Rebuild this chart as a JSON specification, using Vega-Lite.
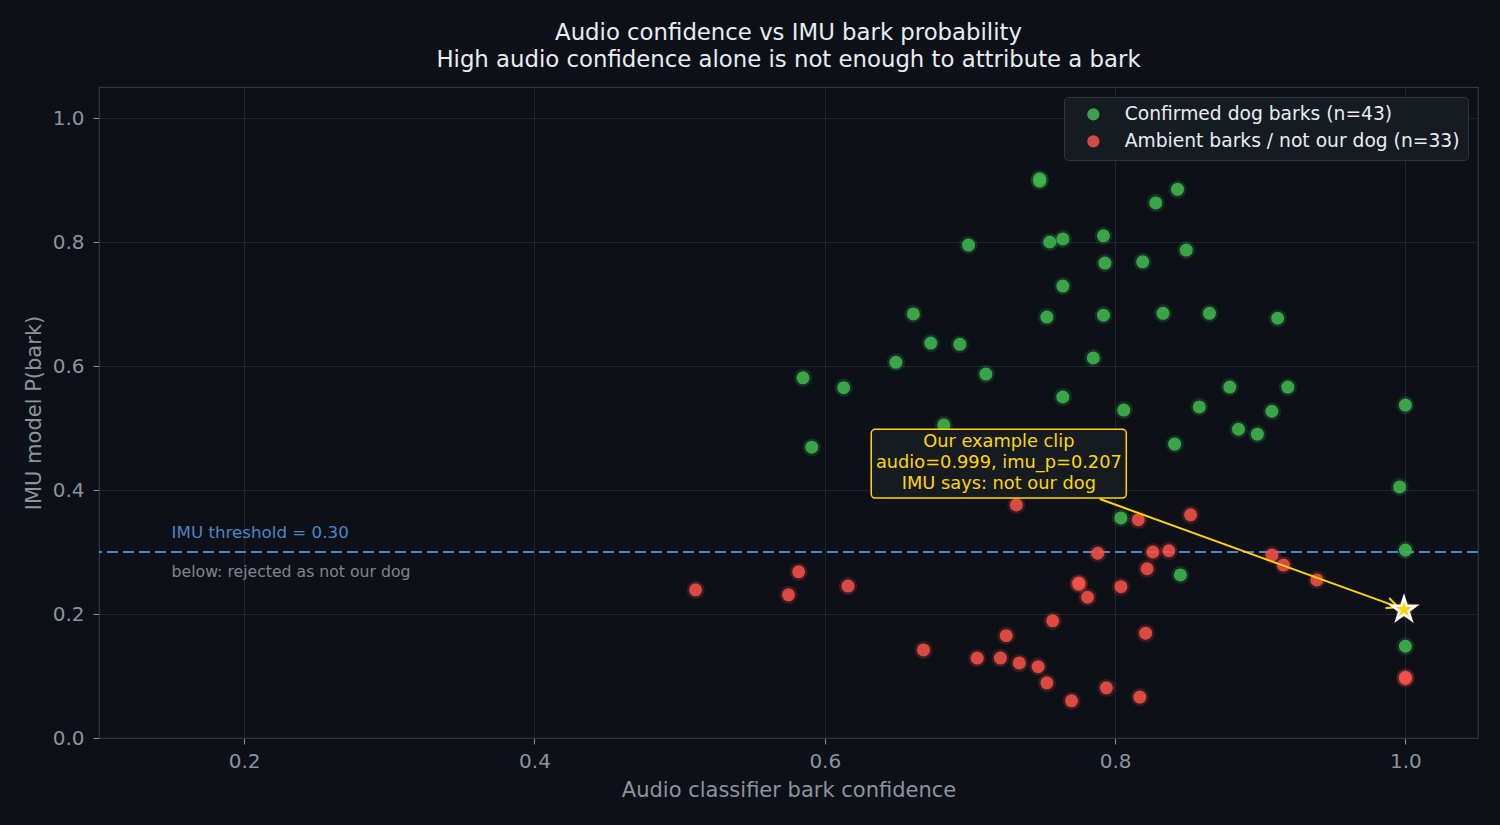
{
  "$schema": "https://vega.github.io/schema/vega-lite/v6.json",
  "width": 1379,
  "height": 651,
  "autosize": {"type": "none"},
  "padding": {"left": 99, "top": 87, "right": 22, "bottom": 87},
  "background": "#0d1117",
  "title": {
    "text": ["Audio confidence vs IMU bark probability", "High audio confidence alone is not enough to attribute a bark"],
    "color": "#e6edf3",
    "fontSize": 22.8,
    "fontWeight": "normal",
    "font": "DejaVu Sans",
    "lineHeight": 27,
    "anchor": "middle",
    "offset": 15
  },
  "config": {
    "font": "DejaVu Sans",
    "view": {"stroke": "#30363d", "strokeWidth": 1.2, "fill": "#0d1117"},
    "axis": {
      "gridColor": "#21262d",
      "gridWidth": 1,
      "domainColor": "#30363d",
      "tickColor": "#8b949e",
      "tickSize": 6,
      "labelColor": "#8b949e",
      "labelFontSize": 20,
      "labelPadding": 9,
      "titleColor": "#8b949e",
      "titleFontSize": 21,
      "titleFontWeight": "normal",
      "titlePadding": 8
    },
    "axisX": {"labelPadding": 7},
    "legend": {
      "orient": "top-right",
      "offset": 10,
      "padding": 8,
      "fillColor": "#161b22",
      "strokeColor": "#30363d",
      "cornerRadius": 4,
      "labelColor": "#e6edf3",
      "labelFontSize": 18.7,
      "labelLimit": 500,
      "labelOffset": 22,
      "symbolOffset": 12,
      "symbolSize": 150,
      "symbolType": "circle",
      "symbolStrokeWidth": 0,
      "symbolOpacity": 0.85,
      "rowPadding": 7
    }
  },
  "datasets": {
    "clips": [
      {"group": "Confirmed dog barks (n=43)", "audio": 0.699, "imu": 0.795},
      {"group": "Confirmed dog barks (n=43)", "audio": 0.661, "imu": 0.684},
      {"group": "Confirmed dog barks (n=43)", "audio": 0.673, "imu": 0.637},
      {"group": "Confirmed dog barks (n=43)", "audio": 0.693, "imu": 0.635},
      {"group": "Confirmed dog barks (n=43)", "audio": 0.649, "imu": 0.606},
      {"group": "Confirmed dog barks (n=43)", "audio": 0.585, "imu": 0.581},
      {"group": "Confirmed dog barks (n=43)", "audio": 0.613, "imu": 0.565},
      {"group": "Confirmed dog barks (n=43)", "audio": 0.682, "imu": 0.505},
      {"group": "Confirmed dog barks (n=43)", "audio": 0.591, "imu": 0.469},
      {"group": "Confirmed dog barks (n=43)", "audio": 0.711, "imu": 0.587},
      {"group": "Confirmed dog barks (n=43)", "audio": 0.748, "imu": 0.898},
      {"group": "Confirmed dog barks (n=43)", "audio": 0.748, "imu": 0.902},
      {"group": "Confirmed dog barks (n=43)", "audio": 0.843, "imu": 0.885},
      {"group": "Confirmed dog barks (n=43)", "audio": 0.828, "imu": 0.863},
      {"group": "Confirmed dog barks (n=43)", "audio": 0.755, "imu": 0.8},
      {"group": "Confirmed dog barks (n=43)", "audio": 0.764, "imu": 0.805},
      {"group": "Confirmed dog barks (n=43)", "audio": 0.792, "imu": 0.81},
      {"group": "Confirmed dog barks (n=43)", "audio": 0.849, "imu": 0.787},
      {"group": "Confirmed dog barks (n=43)", "audio": 0.793, "imu": 0.766},
      {"group": "Confirmed dog barks (n=43)", "audio": 0.819, "imu": 0.768},
      {"group": "Confirmed dog barks (n=43)", "audio": 0.764, "imu": 0.729},
      {"group": "Confirmed dog barks (n=43)", "audio": 0.753, "imu": 0.679},
      {"group": "Confirmed dog barks (n=43)", "audio": 0.792, "imu": 0.682},
      {"group": "Confirmed dog barks (n=43)", "audio": 0.833, "imu": 0.685},
      {"group": "Confirmed dog barks (n=43)", "audio": 0.865, "imu": 0.685},
      {"group": "Confirmed dog barks (n=43)", "audio": 0.912, "imu": 0.677},
      {"group": "Confirmed dog barks (n=43)", "audio": 0.785, "imu": 0.613},
      {"group": "Confirmed dog barks (n=43)", "audio": 0.764, "imu": 0.55},
      {"group": "Confirmed dog barks (n=43)", "audio": 0.879, "imu": 0.566},
      {"group": "Confirmed dog barks (n=43)", "audio": 0.919, "imu": 0.566},
      {"group": "Confirmed dog barks (n=43)", "audio": 0.806, "imu": 0.529},
      {"group": "Confirmed dog barks (n=43)", "audio": 0.858, "imu": 0.534},
      {"group": "Confirmed dog barks (n=43)", "audio": 0.908, "imu": 0.527},
      {"group": "Confirmed dog barks (n=43)", "audio": 0.885, "imu": 0.498},
      {"group": "Confirmed dog barks (n=43)", "audio": 0.898, "imu": 0.49},
      {"group": "Confirmed dog barks (n=43)", "audio": 0.841, "imu": 0.474},
      {"group": "Confirmed dog barks (n=43)", "audio": 1.0, "imu": 0.537},
      {"group": "Confirmed dog barks (n=43)", "audio": 0.996, "imu": 0.405},
      {"group": "Confirmed dog barks (n=43)", "audio": 1.0, "imu": 0.303},
      {"group": "Confirmed dog barks (n=43)", "audio": 1.0, "imu": 0.148},
      {"group": "Confirmed dog barks (n=43)", "audio": 0.804, "imu": 0.355},
      {"group": "Confirmed dog barks (n=43)", "audio": 0.845, "imu": 0.263},
      {"group": "Ambient barks / not our dog (n=33)", "audio": 0.511, "imu": 0.239},
      {"group": "Ambient barks / not our dog (n=33)", "audio": 0.582, "imu": 0.268},
      {"group": "Ambient barks / not our dog (n=33)", "audio": 0.575, "imu": 0.231},
      {"group": "Ambient barks / not our dog (n=33)", "audio": 0.616, "imu": 0.245},
      {"group": "Ambient barks / not our dog (n=33)", "audio": 0.668, "imu": 0.142},
      {"group": "Ambient barks / not our dog (n=33)", "audio": 0.705, "imu": 0.129},
      {"group": "Ambient barks / not our dog (n=33)", "audio": 0.721, "imu": 0.129},
      {"group": "Ambient barks / not our dog (n=33)", "audio": 0.734, "imu": 0.121},
      {"group": "Ambient barks / not our dog (n=33)", "audio": 0.747, "imu": 0.115},
      {"group": "Ambient barks / not our dog (n=33)", "audio": 0.753, "imu": 0.089},
      {"group": "Ambient barks / not our dog (n=33)", "audio": 0.77, "imu": 0.06},
      {"group": "Ambient barks / not our dog (n=33)", "audio": 0.794, "imu": 0.081},
      {"group": "Ambient barks / not our dog (n=33)", "audio": 0.817, "imu": 0.066},
      {"group": "Ambient barks / not our dog (n=33)", "audio": 0.757, "imu": 0.189},
      {"group": "Ambient barks / not our dog (n=33)", "audio": 0.725, "imu": 0.165},
      {"group": "Ambient barks / not our dog (n=33)", "audio": 0.821, "imu": 0.169},
      {"group": "Ambient barks / not our dog (n=33)", "audio": 0.775, "imu": 0.248},
      {"group": "Ambient barks / not our dog (n=33)", "audio": 0.775, "imu": 0.25},
      {"group": "Ambient barks / not our dog (n=33)", "audio": 0.781, "imu": 0.227},
      {"group": "Ambient barks / not our dog (n=33)", "audio": 0.804, "imu": 0.244},
      {"group": "Ambient barks / not our dog (n=33)", "audio": 0.822, "imu": 0.273},
      {"group": "Ambient barks / not our dog (n=33)", "audio": 0.788, "imu": 0.298},
      {"group": "Ambient barks / not our dog (n=33)", "audio": 0.826, "imu": 0.3},
      {"group": "Ambient barks / not our dog (n=33)", "audio": 0.837, "imu": 0.302},
      {"group": "Ambient barks / not our dog (n=33)", "audio": 0.732, "imu": 0.376},
      {"group": "Ambient barks / not our dog (n=33)", "audio": 0.816, "imu": 0.352},
      {"group": "Ambient barks / not our dog (n=33)", "audio": 0.852, "imu": 0.36},
      {"group": "Ambient barks / not our dog (n=33)", "audio": 0.908, "imu": 0.295},
      {"group": "Ambient barks / not our dog (n=33)", "audio": 0.916, "imu": 0.279},
      {"group": "Ambient barks / not our dog (n=33)", "audio": 0.939, "imu": 0.255},
      {"group": "Ambient barks / not our dog (n=33)", "audio": 1.0, "imu": 0.096},
      {"group": "Ambient barks / not our dog (n=33)", "audio": 1.0, "imu": 0.098},
      {"group": "Ambient barks / not our dog (n=33)", "audio": 0.999, "imu": 0.207}
    ],
    "example": [{"audio": 0.999, "imu": 0.207}],
    "arrow": [
      {"x0": 0.79, "y0": 0.385, "x1": 0.995, "y1": 0.211},
      {"x0": 0.9892, "y0": 0.225, "x1": 0.995, "y1": 0.211},
      {"x0": 0.9868, "y0": 0.2097, "x1": 0.995, "y1": 0.211}
    ],
    "box": [{"x0": 0.632, "x1": 0.8077, "y0": 0.387, "y1": 0.498}],
    "boxtext": [
      {"cx": 0.7199, "cy": 0.477, "label": "Our example clip"},
      {"cx": 0.7199, "cy": 0.443, "label": "audio=0.999, imu_p=0.207"},
      {"cx": 0.7199, "cy": 0.409, "label": "IMU says: not our dog"}
    ],
    "threshold": [{"t": 0.3, "lx": 0.15, "ly": 0.331, "sy": 0.268,
      "label": "IMU threshold = 0.30", "sub": "below: rejected as not our dog"}]
  },
  "layer": [
    {
      "data": {"name": "threshold"},
      "mark": {"type": "rule", "color": "#4a86c8", "strokeWidth": 2, "strokeDash": [11, 5]},
      "encoding": {
        "y": {
          "field": "t", "type": "quantitative",
          "scale": {"domain": [0, 1.05], "nice": false, "zero": false},
          "axis": {"values": [0, 0.2, 0.4, 0.6, 0.8, 1.0], "format": ".1f", "title": "IMU model P(bark)"}
        }
      }
    },
    {
      "data": {"name": "threshold"},
      "mark": {"type": "text", "align": "left", "baseline": "middle", "color": "#4a86c8", "fontSize": 16.7},
      "encoding": {
        "x": {
          "field": "lx", "type": "quantitative",
          "scale": {"domain": [0.1, 1.05], "nice": false, "zero": false},
          "axis": {"values": [0.2, 0.4, 0.6, 0.8, 1.0], "format": ".1f", "title": "Audio classifier bark confidence"}
        },
        "y": {"field": "ly", "type": "quantitative"},
        "text": {"field": "label"}
      }
    },
    {
      "data": {"name": "threshold"},
      "mark": {"type": "text", "align": "left", "baseline": "middle", "color": "#7d8590", "fontSize": 15.7},
      "encoding": {
        "x": {"field": "lx", "type": "quantitative"},
        "y": {"field": "sy", "type": "quantitative"},
        "text": {"field": "sub"}
      }
    },
    {
      "data": {"name": "clips"},
      "mark": {"type": "point", "shape": "circle", "filled": true, "size": 330, "opacity": 0.18},
      "encoding": {
        "x": {"field": "audio", "type": "quantitative"},
        "y": {"field": "imu", "type": "quantitative"},
        "color": {
          "field": "group", "type": "nominal",
          "scale": {"domain": ["Confirmed dog barks (n=43)", "Ambient barks / not our dog (n=33)"], "range": ["#3fb950", "#f85149"]},
          "legend": {"title": null}
        }
      }
    },
    {
      "data": {"name": "clips"},
      "mark": {"type": "point", "shape": "circle", "filled": true, "size": 170, "opacity": 0.85},
      "encoding": {
        "x": {"field": "audio", "type": "quantitative"},
        "y": {"field": "imu", "type": "quantitative"},
        "color": {"field": "group", "type": "nominal"}
      }
    },
    {
      "data": {"name": "arrow"},
      "mark": {"type": "rule", "color": "#ffd700", "strokeWidth": 2, "strokeCap": "round"},
      "encoding": {
        "x": {"field": "x0", "type": "quantitative"},
        "y": {"field": "y0", "type": "quantitative"},
        "x2": {"field": "x1"},
        "y2": {"field": "y1"}
      }
    },
    {
      "data": {"name": "example"},
      "mark": {
        "type": "point",
        "shape": "M0,-1L0.2245,-0.309L0.9511,-0.309L0.3633,0.118L0.5878,0.809L0,0.382L-0.5878,0.809L-0.3633,0.118L-0.9511,-0.309L-0.2245,-0.309Z",
        "filled": true, "color": "#ffd700", "stroke": "#ffffff", "strokeWidth": 2.5, "strokeJoin": "miter", "size": 620, "opacity": 1
      },
      "encoding": {
        "x": {"field": "audio", "type": "quantitative"},
        "y": {"field": "imu", "type": "quantitative"}
      }
    },
    {
      "data": {"name": "box"},
      "mark": {"type": "rect", "fill": "#161b22", "stroke": "#ffd700", "strokeWidth": 1.5, "cornerRadius": 4},
      "encoding": {
        "x": {"field": "x0", "type": "quantitative"},
        "x2": {"field": "x1"},
        "y": {"field": "y0", "type": "quantitative"},
        "y2": {"field": "y1"}
      }
    },
    {
      "data": {"name": "boxtext"},
      "mark": {"type": "text", "align": "center", "baseline": "middle", "color": "#ffd700", "fontSize": 17.8},
      "encoding": {
        "x": {"field": "cx", "type": "quantitative"},
        "y": {"field": "cy", "type": "quantitative"},
        "text": {"field": "label"}
      }
    }
  ]
}
